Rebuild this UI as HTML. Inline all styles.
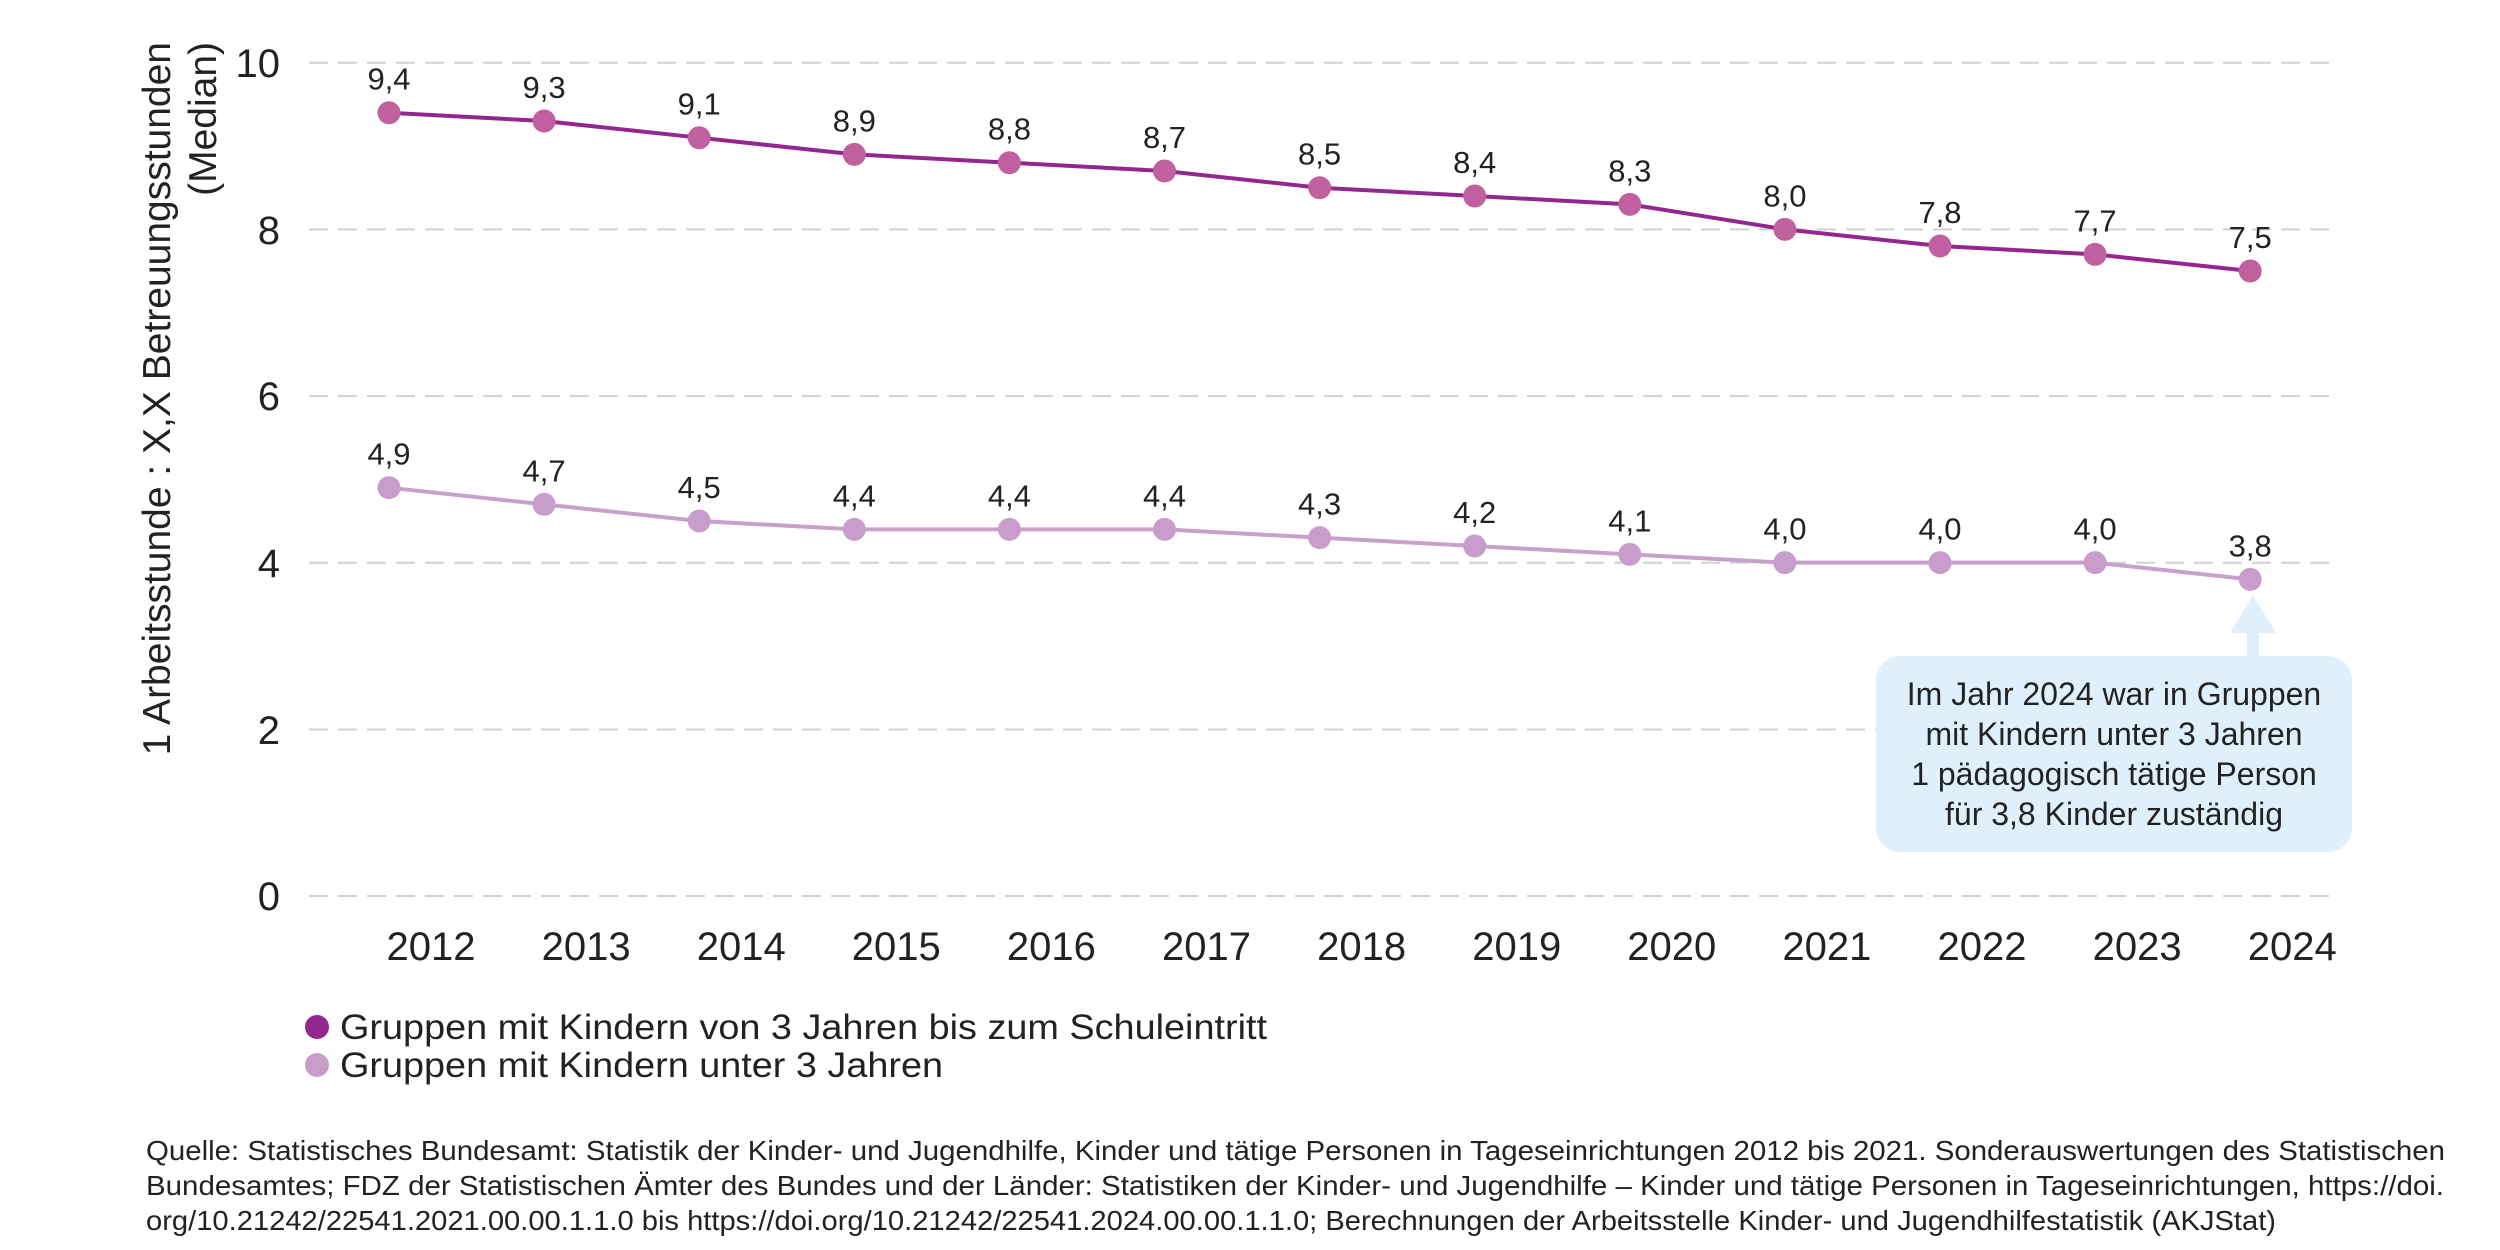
<!DOCTYPE html>
<html><head><meta charset="utf-8"><style>html,body{margin:0;padding:0;background:#fff}svg{display:block}</style></head>
<body>
<svg width="2500" height="1250" viewBox="0 0 2500 1250" xmlns="http://www.w3.org/2000/svg" font-family="Liberation Sans, sans-serif" fill="#222">
<g stroke="#cdd3d3" stroke-width="2" stroke-dasharray="19 10">
<line x1="309" y1="62.7" x2="2330" y2="62.7"/>
<line x1="309" y1="229.4" x2="2330" y2="229.4"/>
<line x1="309" y1="396.1" x2="2330" y2="396.1"/>
<line x1="309" y1="562.8" x2="2330" y2="562.8"/>
<line x1="309" y1="729.5" x2="2330" y2="729.5"/>
<line x1="309" y1="896" x2="2330" y2="896"/>
</g>
<g font-size="40" text-anchor="end">
<text x="280" y="77">10</text><text x="280" y="244">8</text><text x="280" y="410">6</text>
<text x="280" y="577">4</text><text x="280" y="744">2</text><text x="280" y="910">0</text>
</g>
<g font-size="39" text-anchor="end">
<text transform="translate(170,42) rotate(-90)">1 Arbeitsstunde : X,X Betreuungsstunden</text>
<text transform="translate(216,42) rotate(-90)">(Median)</text>
</g>
<g font-size="40" text-anchor="middle" id="years"></g>
<g id="plot"></g>
<rect x="1876" y="656" width="476" height="196" rx="24" fill="#dff0fc"/>
<polygon points="2253,595 2230,633 2276,633" fill="#dff0fc"/>
<rect x="2247" y="630" width="12" height="28" fill="#dff0fc"/>
<g font-size="32" text-anchor="middle">
<text x="2114" y="705">Im Jahr 2024 war in Gruppen</text>
<text x="2114" y="745">mit Kindern unter 3 Jahren</text>
<text x="2114" y="785">1 pädagogisch tätige Person</text>
<text x="2114" y="825">für 3,8 Kinder zuständig</text>
</g>
<circle cx="317" cy="1027" r="12" fill="#93278f"/>
<circle cx="317" cy="1065" r="12" fill="#c89dcb"/>
<g font-size="35">
<text x="340" y="1039" textLength="927" lengthAdjust="spacingAndGlyphs">Gruppen mit Kindern von 3 Jahren bis zum Schuleintritt</text>
<text x="340" y="1077" textLength="603" lengthAdjust="spacingAndGlyphs">Gruppen mit Kindern unter 3 Jahren</text>
</g>
<g font-size="28">
<text x="146" y="1160" textLength="2299" lengthAdjust="spacingAndGlyphs">Quelle: Statistisches Bundesamt: Statistik der Kinder- und Jugendhilfe, Kinder und tätige Personen in Tageseinrichtungen 2012 bis 2021. Sonderauswertungen des Statistischen</text>
<text x="146" y="1195" textLength="2298" lengthAdjust="spacingAndGlyphs">Bundesamtes; FDZ der Statistischen Ämter des Bundes und der Länder: Statistiken der Kinder- und Jugendhilfe – Kinder und tätige Personen in Tageseinrichtungen, https://doi.</text>
<text x="146" y="1230" textLength="2130" lengthAdjust="spacingAndGlyphs">org/10.21242/22541.2021.00.00.1.1.0 bis https://doi.org/10.21242/22541.2024.00.00.1.1.0; Berechnungen der Arbeitsstelle Kinder- und Jugendhilfestatistik (AKJStat)</text>
</g>
<script>
var ns="http://www.w3.org/2000/svg";
var d=[9.4,9.3,9.1,8.9,8.8,8.7,8.5,8.4,8.3,8.0,7.8,7.7,7.5];
var l=[4.9,4.7,4.5,4.4,4.4,4.4,4.3,4.2,4.1,4.0,4.0,4.0,3.8];
function X(i){return 389+155.1*i}function Y(v){return 896-83.33*v}
var p=document.getElementById("plot"),yr=document.getElementById("years");
function el(t,a,par){var e=document.createElementNS(ns,t);for(var k in a)e.setAttribute(k,a[k]);(par||p).appendChild(e);return e}
for(var i=0;i<13;i++){var t=el("text",{x:X(i)+42,y:960},yr);t.textContent=String(2012+i);}
function series(vals,lc,dc){
 var pts=vals.map(function(v,i){return X(i)+","+Y(v)}).join(" ");
 el("polyline",{points:pts,fill:"none",stroke:lc,"stroke-width":4});
 vals.forEach(function(v,i){
  el("circle",{cx:X(i),cy:Y(v),r:11.5,fill:dc});
  var t=el("text",{x:X(i),y:Y(v)-23,"font-size":31,"text-anchor":"middle"});
  t.textContent=v.toFixed(1).replace(".",",");
 });
}
series(d,"#93278f","#c0609e");
series(l,"#c9a0cb","#c89dcb");
</script>
</svg>
</body></html>
